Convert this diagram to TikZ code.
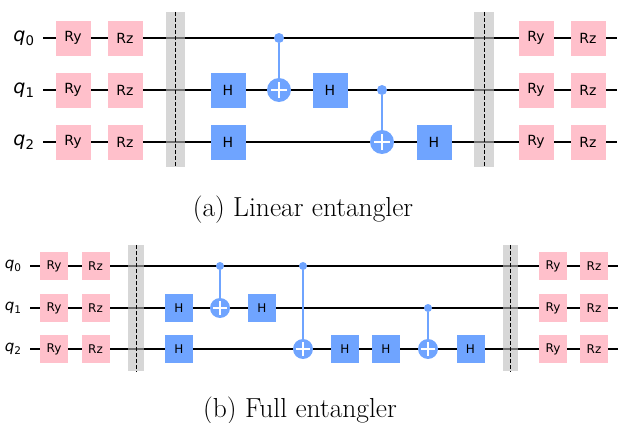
\documentclass[tikz,border=0pt]{standalone}
\usepackage{fontspec}
\newfontfamily\gatefont{DejaVu Sans}[ItalicFont={DejaVu Sans Oblique}]
\usetikzlibrary{backgrounds}
\definecolor{qpink}{HTML}{FFC0CB}
\definecolor{qblue}{HTML}{6FA4FF}
\definecolor{barrgray}{HTML}{BDBDBD}
\newcommand{\qlab}[1]{\textit{q}\textsubscript{#1}}

\begin{document}
\begin{tikzpicture}[x=1pt,y=-1pt,
	wire/.style={line width=1.5pt},
	rot/.style={rectangle,fill=qpink,minimum size=#1,inner sep=0pt},
	had/.style={rectangle,fill=qblue,minimum size=#1,inner sep=0pt},
	ctrl/.style={circle,fill=qblue,minimum size=#1,inner sep=0pt},
	targ/.style={circle,fill=qblue,minimum size=#1,inner sep=0pt,
		path picture={\draw[white,line width=1.8pt]
			([xshift=-0.33*#1]path picture bounding box.center) -- ([xshift=0.33*#1]path picture bounding box.center)
			([yshift=-0.33*#1]path picture bounding box.center) -- ([yshift=0.33*#1]path picture bounding box.center);}},
	link/.style={qblue,line width=1.5pt},
	barr/.style={rectangle,fill=barrgray,fill opacity=0.6,minimum width=#1,inner sep=0pt},
	bdash/.style={dash pattern=on 4pt off 2pt,line width=0.8pt},
	caption/.style={font=\fontsize{27.5}{32}\selectfont}]

\useasboundingbox (0,0) rectangle (625,423);

% (a) linear entangler
\begin{scope}[every node/.append style={font=\gatefont\fontsize{14}{14}\selectfont}]
\node[anchor=east,font=\gatefont\fontsize{19}{19}\selectfont] (la0) at (38,38) {\qlab{0}};
\node[anchor=east,font=\gatefont\fontsize{19}{19}\selectfont] (la1) at (38,90) {\qlab{1}};
\node[anchor=east,font=\gatefont\fontsize{19}{19}\selectfont] (la2) at (38,142) {\qlab{2}};
\coordinate (sa0) at (43,38);	\coordinate (ea0) at (617,38);
\coordinate (sa1) at (43,90);	\coordinate (ea1) at (617,90);
\coordinate (sa2) at (43,142);	\coordinate (ea2) at (617,142);

\node[rot=35] (ya0) at (73,38) {Ry};
\node[rot=35] (ya1) at (73,90) {Ry};
\node[rot=35] (ya2) at (73,142) {Ry};
\node[rot=35] (za0) at (125,38) {Rz};
\node[rot=35] (za1) at (125,90) {Rz};
\node[rot=35] (za2) at (125,142) {Rz};

\node[barr=19,minimum height=155] (ba1) at (175.5,89.5) {};

\node[had=35] (ha1) at (228,90) {H};
\node[had=35] (ha2) at (228,142) {H};
\node[ctrl=10] (ca1) at (279,38) {};
\node[targ=24] (ta1) at (279,90) {};
\node[had=35] (ha3) at (330,90) {H};
\node[ctrl=10] (ca2) at (382,90) {};
\node[targ=24] (ta2) at (382,142) {};
\node[had=35] (ha4) at (434,142) {H};

\node[barr=20,minimum height=155] (ba2) at (484,89.5) {};

\node[rot=35] (ya3) at (536,38) {Ry};
\node[rot=35] (ya4) at (536,90) {Ry};
\node[rot=35] (ya5) at (536,142) {Ry};
\node[rot=35] (za3) at (588,38) {Rz};
\node[rot=35] (za4) at (588,90) {Rz};
\node[rot=35] (za5) at (588,142) {Rz};
\end{scope}

\draw[bdash] (ba1.north) -- (ba1.south);
\draw[bdash] (ba2.north) -- (ba2.south);

\node[caption] (capa) at (303,210) {(a) Linear entangler};

% (b) full entangler
\begin{scope}[every node/.append style={font=\gatefont\fontsize{12}{12}\selectfont}]
\node[anchor=east,font=\gatefont\fontsize{15}{15}\selectfont] (lb0) at (25,266) {\qlab{0}};
\node[anchor=east,font=\gatefont\fontsize{15}{15}\selectfont] (lb1) at (25,308) {\qlab{1}};
\node[anchor=east,font=\gatefont\fontsize{15}{15}\selectfont] (lb2) at (25,349) {\qlab{2}};
\coordinate (sb0) at (30,266);	\coordinate (eb0) at (618,266);
\coordinate (sb1) at (30,308);	\coordinate (eb1) at (618,308);
\coordinate (sb2) at (30,349);	\coordinate (eb2) at (618,349);

\node[rot=28] (yb0) at (54,266) {Ry};
\node[rot=28] (yb1) at (54,308) {Ry};
\node[rot=28] (yb2) at (54,349) {Ry};
\node[rot=28] (zb0) at (95.5,266) {Rz};
\node[rot=28] (zb1) at (95.5,308) {Rz};
\node[rot=28] (zb2) at (95.5,349) {Rz};

\node[barr=16,minimum height=126] (bb1) at (136,308) {};

\node[had=28] (hb1) at (179,308) {H};
\node[had=28] (hb2) at (179,349) {H};
\node[ctrl=8] (cb1) at (220,266) {};
\node[targ=20] (tb1) at (220,308) {};
\node[had=28] (hb3) at (262,308) {H};
\node[ctrl=8] (cb2) at (303,266) {};
\node[targ=20] (tb2) at (303,349) {};
\node[had=28] (hb4) at (345,349) {H};
\node[had=28] (hb5) at (386,349) {H};
\node[ctrl=8] (cb3) at (428,308) {};
\node[targ=20] (tb3) at (428,349) {};
\node[had=28] (hb6) at (470.5,349) {H};

\node[barr=15,minimum height=126] (bb2) at (510.5,308) {};

\node[rot=28] (yb3) at (553,266) {Ry};
\node[rot=28] (yb4) at (553,308) {Ry};
\node[rot=28] (yb5) at (553,349) {Ry};
\node[rot=28] (zb3) at (594,266) {Rz};
\node[rot=28] (zb4) at (594,308) {Rz};
\node[rot=28] (zb5) at (594,349) {Rz};
\end{scope}

\draw[bdash] (bb1.north) -- (bb1.south);
\draw[bdash] (bb2.north) -- (bb2.south);

\node[caption] (capb) at (300,411) {(b) Full entangler};

% wires and links go under the gates
\begin{pgfonlayer}{background}
\draw[wire] (sa0) -- (ea0);
\draw[wire] (sa1) -- (ea1);
\draw[wire] (sa2) -- (ea2);
\draw[wire] (sb0) -- (eb0);
\draw[wire] (sb1) -- (eb1);
\draw[wire] (sb2) -- (eb2);
\draw[link] (ca1) -- (ta1);
\draw[link] (ca2) -- (ta2);
\draw[link] (cb1) -- (tb1);
\draw[link] (cb2) -- (tb2);
\draw[link] (cb3) -- (tb3);
\end{pgfonlayer}
\end{tikzpicture}
\end{document}
